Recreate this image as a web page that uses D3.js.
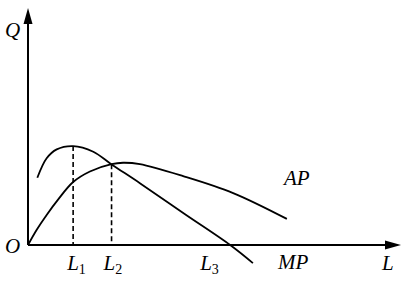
<!DOCTYPE html>
<html>
<head>
<meta charset="utf-8">
<script src="https://cdn.jsdelivr.net/npm/d3@7"></script>
<style>
  body { margin: 0; background: #fff; }
  svg text { font-family: "Liberation Serif", "DejaVu Serif", serif; font-style: italic; fill: #000; }
</style>
</head>
<body>
<div id="chart"></div>
<script>
// MP and AP curves (L, Q in 0..100 units)
const mpPoints = [[2.5, 28.6], [5.0, 36.9], [7.7, 40.7], [12.1, 42.1], [17.5, 39.7],
                  [22.4, 34.3], [30.0, 26.3], [42.0, 13.2], [54.2, 0], [60.3, -7.7]];
const apPoints = [[0, 0], [2.3, 6.4], [5.0, 12.8], [8.0, 19.2], [12.1, 26.8], [16.6, 31.3],
                  [22.4, 34.4], [25.5, 35.0], [30.0, 34.4], [41.6, 29.3], [55.0, 22.1], [69.4, 11.1]];
const dropLines = [[12.1, 42.1], [22.4, 34.4]];
const tickLabels = [{ L: 12.1, sub: "1" }, { L: 22.4, sub: "2" }, { L: 54.2, sub: "3" }];

const width = 417, height = 291;
const svg = d3.select("#chart").append("svg")
    .attr("width", width).attr("height", height);

const x = d3.scaleLinear().domain([0, 100]).range([28, 401]);
const y = d3.scaleLinear().domain([0, 100]).range([245, 10]);

// axes with arrowheads
svg.append("line")
    .attr("x1", x(0)).attr("y1", y(0)).attr("x2", x(0)).attr("y2", y(100) + 12)
    .attr("stroke", "#000").attr("stroke-width", 2);
svg.append("line")
    .attr("x1", x(0)).attr("y1", y(0)).attr("x2", x(100) - 12).attr("y2", y(0))
    .attr("stroke", "#000").attr("stroke-width", 2);
svg.append("path")
    .attr("d", `M${x(0)},${y(100) - 2} L${x(0) - 4.5},${y(100) + 14} L${x(0) + 4.5},${y(100) + 14} Z`);
svg.append("path")
    .attr("d", `M${x(100)},${y(0)} L${x(100) - 16},${y(0) - 4.5} L${x(100) - 16},${y(0) + 4.5} Z`);

const line = d3.line()
    .x(d => x(d[0]))
    .y(d => y(d[1]))
    .curve(d3.curveCatmullRom.alpha(0.5));

svg.append("path").datum(mpPoints)
    .attr("d", line).attr("fill", "none").attr("stroke", "#000").attr("stroke-width", 1.8);
svg.append("path").datum(apPoints)
    .attr("d", line).attr("fill", "none").attr("stroke", "#000").attr("stroke-width", 1.8);

svg.selectAll(".drop").data(dropLines).join("line")
    .attr("x1", d => x(d[0])).attr("x2", d => x(d[0]))
    .attr("y1", d => y(d[1])).attr("y2", y(0))
    .attr("stroke", "#000").attr("stroke-width", 1.6)
    .attr("stroke-dasharray", "5,3");

// labels
svg.append("text").attr("x", 5).attr("y", 37).attr("font-size", 21).text("Q");
svg.append("text").attr("x", 5).attr("y", 253).attr("font-size", 21).text("O");
svg.append("text").attr("x", 382).attr("y", 270).attr("font-size", 21).text("L");
svg.append("text").attr("x", 284).attr("y", 185).attr("font-size", 21).text("AP");
svg.append("text").attr("x", 278).attr("y", 269).attr("font-size", 21).text("MP");

const labelDx = [-6, -8, -30];
const tl = svg.selectAll(".tick-label").data(tickLabels).join("text")
    .attr("x", (d, i) => x(d.L) + labelDx[i]).attr("y", 270).attr("font-size", 21);
tl.append("tspan").text("L");
tl.append("tspan").attr("font-size", 14).attr("font-style", "normal")
    .attr("dy", 4).text(d => d.sub);
</script>
</body>
</html>
